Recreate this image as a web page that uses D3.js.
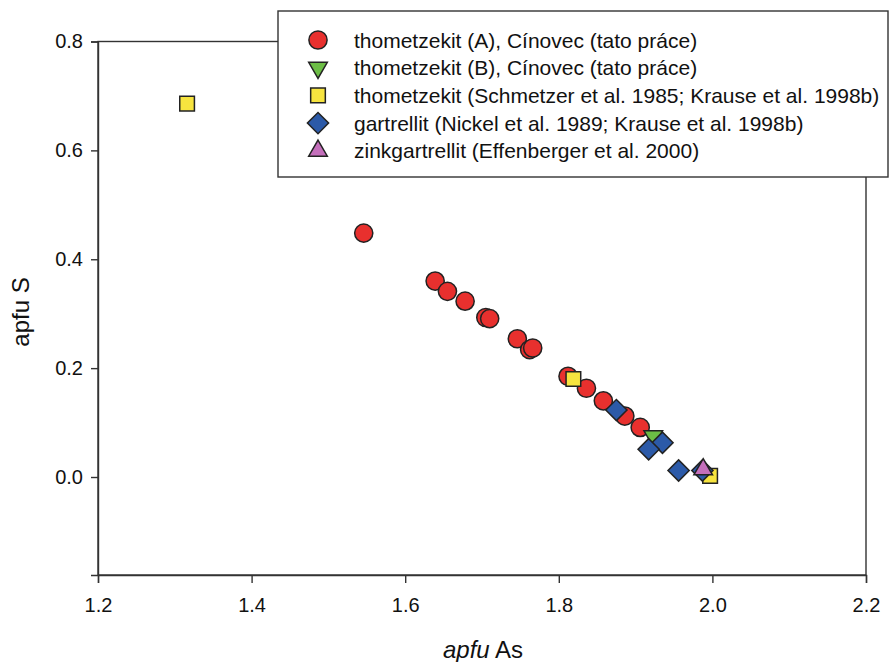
<!DOCTYPE html>
<html>
<head>
<meta charset="utf-8">
<script src="https://d3js.org/d3.v7.min.js"></script>
<style>
  body { margin: 0; background: #fff; }
  svg { font-family: "Liberation Sans", Arial, sans-serif; }
</style>
</head>
<body>
<svg width="890" height="662"></svg>
<script>
// series (x = apfu As, y = apfu S)
var thomA_x = [1.546, 1.639, 1.655, 1.678, 1.705, 1.710, 1.746, 1.762, 1.766, 1.812, 1.836, 1.858, 1.886, 1.906];
var thomA_y = [0.448, 0.360, 0.341, 0.323, 0.293, 0.291, 0.254, 0.234, 0.237, 0.185, 0.163, 0.140, 0.112, 0.091];
var thomB_x = [1.923];
var thomB_y = [0.075];
var schm_x = [1.316, 1.819, 1.997];
var schm_y = [0.686, 0.180, 0.002];
var gart_x = [1.875, 1.935, 1.917, 1.956, 1.987];
var gart_y = [0.123, 0.063, 0.051, 0.012, 0.012];
var zink_x = [1.988];
var zink_y = [0.014];

var xTicks = [1.2, 1.4, 1.6, 1.8, 2.0, 2.2];
var yTicks = [0.0, 0.2, 0.4, 0.6, 0.8];

var legendLabels = [
  "thometzekit (A), Cínovec (tato práce)",
  "thometzekit (B), Cínovec (tato práce)",
  "thometzekit (Schmetzer et al. 1985; Krause et al. 1998b)",
  "gartrellit (Nickel et al. 1989; Krause et al. 1998b)",
  "zinkgartrellit (Effenberger et al. 2000)"
];

var svg = d3.select("svg"),
    pLeft = 98, pRight = 866, pTop = 41.5, pBottom = 575;

var x = d3.scaleLinear().domain([1.2, 2.2]).range([pLeft, pRight]);
var y = d3.scaleLinear().domain([-0.18, 0.8]).range([pBottom, pTop]);

// frame
svg.append("rect")
    .attr("x", pLeft).attr("y", pTop)
    .attr("width", pRight - pLeft).attr("height", pBottom - pTop)
    .attr("fill", "none").attr("stroke", "#333").attr("stroke-width", 1.4);

var xAxis = svg.append("g")
    .attr("transform", "translate(0," + pBottom + ")")
    .call(d3.axisBottom(x).tickValues(xTicks).tickFormat(d3.format(".1f")).tickSize(8).tickPadding(15));
var yAxis = svg.append("g")
    .attr("transform", "translate(" + pLeft + ",0)")
    .call(d3.axisLeft(y).tickValues(yTicks).tickFormat(d3.format(".1f")).tickSize(7).tickPadding(8));

[xAxis, yAxis].forEach(function(a) {
    a.select(".domain").attr("stroke", "#333").attr("stroke-width", 1.4);
    a.selectAll(".tick line").attr("stroke", "#333").attr("stroke-width", 1.4);
    a.selectAll("text").attr("font-size", "20px").attr("fill", "#111")
        .attr("font-family", "'Liberation Sans', Arial, sans-serif");
});

// axis titles
var xt = svg.append("text")
    .attr("x", 483).attr("y", 658)
    .attr("text-anchor", "middle").attr("font-size", "24px").attr("fill", "#111");
xt.append("tspan").attr("font-style", "italic").text("apfu");
xt.append("tspan").text(" As");

svg.append("text")
    .attr("transform", "translate(29,312) rotate(-90)")
    .attr("text-anchor", "middle").attr("font-size", "24px").attr("fill", "#111")
    .text("apfu S");

// marker definitions
var series = [
  {xs: thomA_x, ys: thomA_y, type: d3.symbolCircle, size: 260, rot: 0, fill: "#e8302e"},
  {xs: thomB_x, ys: thomB_y, type: d3.symbolTriangle, size: 150, rot: 180, fill: "#6cbd45"},
  {xs: schm_x, ys: schm_y, type: d3.symbolSquare, size: 215, rot: 0, fill: "#f7e43f"},
  {xs: gart_x, ys: gart_y, type: d3.symbolSquare, size: 225, rot: 45, fill: "#2c5aa8"},
  {xs: zink_x, ys: zink_y, type: d3.symbolTriangle, size: 150, rot: 0, fill: "#c46fbb"}
];

series.forEach(function(s) {
    var pts = s.xs.map(function(v, i) { return [v, s.ys[i]]; });
    svg.append("g").selectAll("path")
        .data(pts)
        .enter().append("path")
        .attr("d", d3.symbol().type(s.type).size(s.size))
        .attr("transform", function(d) {
            return "translate(" + x(d[0]) + "," + y(d[1]) + ") rotate(" + s.rot + ")";
        })
        .attr("fill", s.fill)
        .attr("stroke", "#222")
        .attr("stroke-width", 1.5);
});

// legend
var lg = svg.append("g");
lg.append("rect")
    .attr("x", 278).attr("y", 11).attr("width", 610).attr("height", 166)
    .attr("fill", "#fff").attr("stroke", "#333").attr("stroke-width", 1.4);

series.forEach(function(s, i) {
    var yy = 40 + i * 27.7;
    lg.append("path")
        .attr("d", d3.symbol().type(s.type).size(s.size))
        .attr("transform", "translate(318," + yy + ") rotate(" + s.rot + ")")
        .attr("fill", s.fill).attr("stroke", "#222").attr("stroke-width", 1.5);
    lg.append("text")
        .attr("x", 354).attr("y", yy + 7.5)
        .attr("font-size", "21px").attr("fill", "#111")
        .text(legendLabels[i]);
});
</script>
</body>
</html>
